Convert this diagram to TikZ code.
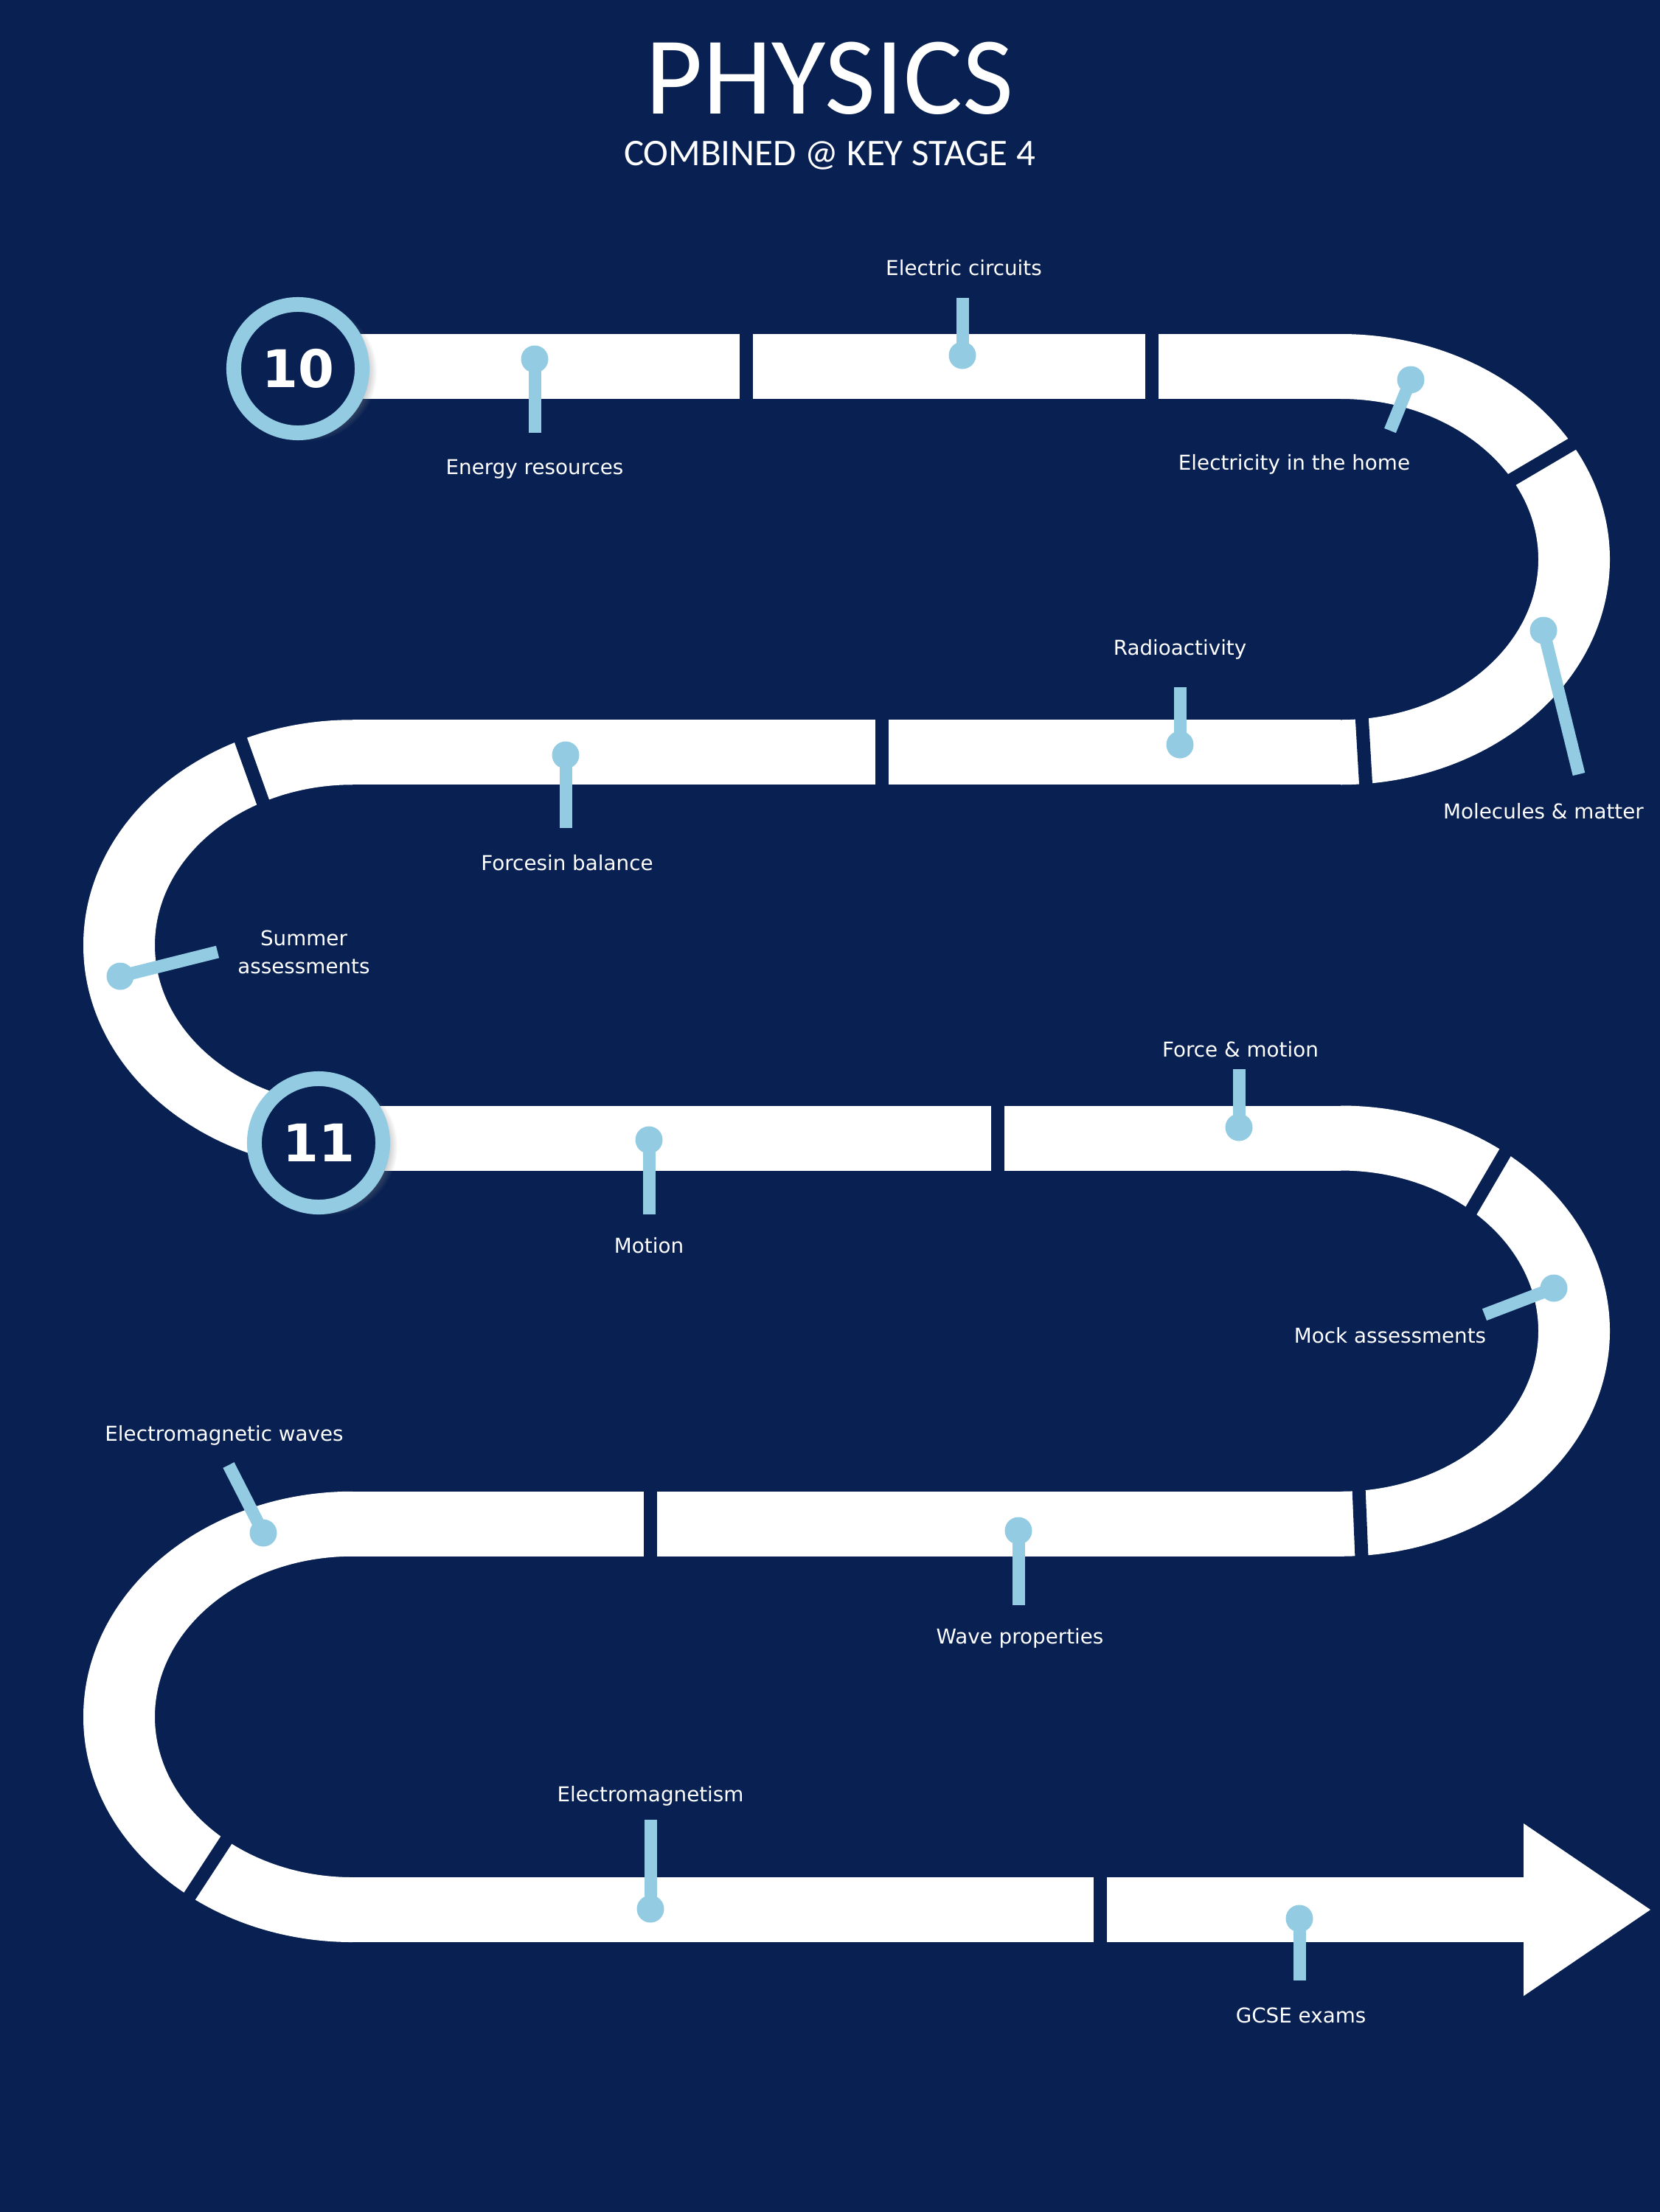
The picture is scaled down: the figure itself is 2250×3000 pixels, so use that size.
\documentclass[tikz,border=0pt]{standalone}
\usepackage{fontspec}
\setmainfont{DejaVu Sans}
\newfontfamily\titlefont{Carlito}
\usetikzlibrary{shadows}
\definecolor{navy}{RGB}{8,33,82}
\definecolor{lblue}{RGB}{147,204,226}
\begin{document}
\begin{tikzpicture}[x=0.01cm,y=-0.01cm,
  band/.style={fill=white},
  gapline/.style={draw=navy,line width=0.18cm},
  pinstick/.style={draw=lblue,line width=0.17cm},
  pindot/.style={fill=lblue},
  lab/.style={text=white,font=\fontsize{7.9}{10.8}\selectfont,inner sep=0pt,anchor=base,align=center},
  yearring/.style={circle,draw=lblue,fill=navy,line width=0.2cm,minimum size=1.74cm,inner sep=0pt,
    text=white,font=\fontsize{20}{24}\selectfont\bfseries,
    circular drop shadow={shadow xshift=0.12cm,shadow yshift=-0.04cm,opacity=0.45,shadow scale=1.08}},
  titletext/.style={text=white,inner sep=0pt,anchor=base}
]
% bounding box first, then background (overflow is cut by the page)
\useasboundingbox (0,0) rectangle (2250,3000);
\fill[navy] (-20,-20) rectangle (2270,3020);

% title
\node[titletext,font=\titlefont\fontsize{42.7}{50}\selectfont] (title) at (1125,155) {PHYSICS};
\node[titletext,font=\titlefont\fontsize{14.5}{17}\selectfont] (subtitle) at (1125,225) {COMBINED @ KEY STAGE 4};

% road: straight parts
\fill[band] (404,453) rectangle (1818,541);
\fill[band] (478,976.25) rectangle (1818,1064.25);
\fill[band] (478,1499.5) rectangle (1818,1587.5);
\fill[band] (478,2022.75) rectangle (1818,2110.75);
\fill[band] (478,2546) rectangle (2066,2634);
\fill[band] (2066,2473) -- (2238,2590) -- (2066,2707) -- cycle;
% road: bends
\fill[band] (1818,453) arc[start angle=-90,end angle=90,x radius=365,y radius=305.625]
  -- (1818,976.25) arc[start angle=90,end angle=-90,x radius=268,y radius=217.625] -- cycle;
\fill[band] (478,976.25) arc[start angle=270,end angle=90,x radius=365,y radius=305.625]
  -- (478,1499.5) arc[start angle=90,end angle=270,x radius=268,y radius=217.625] -- cycle;
\fill[band] (1818,1499.5) arc[start angle=-90,end angle=90,x radius=365,y radius=305.625]
  -- (1818,2022.75) arc[start angle=90,end angle=-90,x radius=268,y radius=217.625] -- cycle;
\fill[band] (478,2022.75) arc[start angle=270,end angle=90,x radius=365,y radius=305.625]
  -- (478,2546) arc[start angle=90,end angle=270,x radius=268,y radius=217.625] -- cycle;

% gaps between road pieces
\draw[gapline] (1012,430) -- (1012,565);
\draw[gapline] (1562,430) -- (1562,565);
\draw[gapline] (2039,657) -- (2151,591);
\draw[gapline] (1846,960) -- (1853,1080);
\draw[gapline] (1196,960) -- (1196,1080);
\draw[gapline] (318,980) -- (362,1103);
\draw[gapline] (1353,1485) -- (1353,1600);
\draw[gapline] (2054,1541) -- (1989,1652);
\draw[gapline] (1842,2005) -- (1847,2125);
\draw[gapline] (882,2005) -- (882,2125);
\draw[gapline] (251,2581) -- (317,2480);
\draw[gapline] (1492,2530) -- (1492,2650);

% year markers
\node[yearring] (y10) at (404,500) {10};
\node[yearring] (y11) at (432,1550) {11};

% pins
\coordinate (d1) at (725,487);   \coordinate (e1) at (725,587);
\coordinate (d2) at (1305,482);  \coordinate (e2) at (1305,404);
\coordinate (d3) at (1913,515);  \coordinate (e3) at (1885,584);
\coordinate (d4) at (2093,855);  \coordinate (e4) at (2141,1050);
\coordinate (d5) at (1600,1010); \coordinate (e5) at (1600,932);
\coordinate (d6) at (767,1024);  \coordinate (e6) at (767,1123);
\coordinate (d7) at (163,1324);  \coordinate (e7) at (295,1291);
\coordinate (d8) at (880,1546);  \coordinate (e8) at (880,1647);
\coordinate (d9) at (1680,1529); \coordinate (e9) at (1680,1450);
\coordinate (d10) at (2107,1747); \coordinate (e10) at (2013,1783);
\coordinate (d11) at (357,2079);  \coordinate (e11) at (310,1987);
\coordinate (d12) at (1381,2076); \coordinate (e12) at (1381,2177);
\coordinate (d13) at (882,2589);  \coordinate (e13) at (882,2468);
\coordinate (d14) at (1762,2602); \coordinate (e14) at (1762,2686);
\foreach \i in {1,...,14}{
  \draw[pinstick] (d\i) -- (e\i);
  \fill[pindot] (d\i) circle[radius=18.5];
}

% labels
\node[lab] (l1) at (725,643) {Energy resources};
\node[lab] (l2) at (1307,373) {Electric circuits};
\node[lab] (l3) at (1755,637) {Electricity in the home};
\node[lab] (l4) at (2093,1110) {Molecules \& matter};
\node[lab] (l5) at (1600,888) {Radioactivity};
\node[lab] (l6) at (769,1180) {Forcesin balance};
\node[lab] (l7) at (412,1320) {Summer\\assessments};
\node[lab] (l8) at (880,1699) {Motion};
\node[lab] (l9) at (1682,1433) {Force \& motion};
\node[lab] (l10) at (1885,1821) {Mock assessments};
\node[lab] (l11) at (304,1954) {Electromagnetic waves};
\node[lab] (l12) at (1383,2229) {Wave properties};
\node[lab] (l13) at (882,2443) {Electromagnetism};
\node[lab] (l14) at (1764,2743) {GCSE exams};
\end{tikzpicture}
\end{document}
